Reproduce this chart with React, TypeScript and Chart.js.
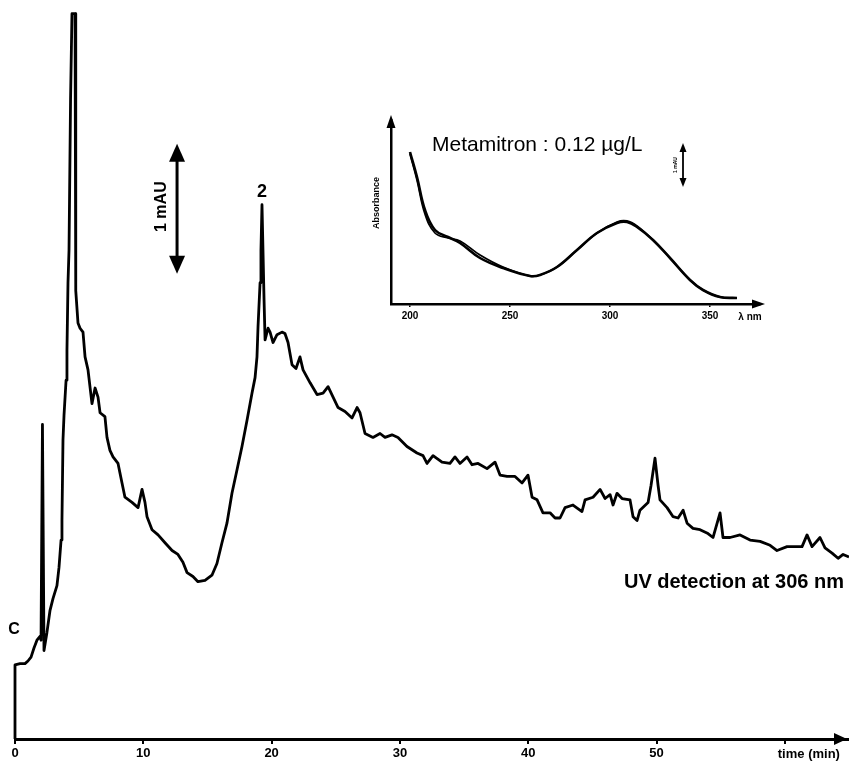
import React, { useEffect, useRef } from 'react';
import { Chart, registerables } from 'chart.js';

Chart.register(...registerables);

const FONT = "'Liberation Sans', Arial, Helvetica, sans-serif";

// ---------- Chromatogram (main chart) ----------
const TIME_MIN = [
  0, 0, 0.39, 0.78, 1.01, 1.25, 1.48, 1.71, 1.95, 2.03, 2.14, 2.26, 2.49, 2.73, 2.96, 3.27, 3.43, 3.59, 3.66, 3.74,
  3.82, 3.98, 4.05, 4.13, 4.21, 4.33, 4.44, 4.68, 4.72, 4.75, 4.91, 5.07, 5.3, 5.46, 5.69, 6.0, 6.24, 6.47, 6.63, 7.01,
  7.17, 7.4, 7.64, 8.03, 8.34, 8.57, 9.12, 9.59, 9.9, 10.13, 10.29, 10.68, 11.15, 11.69, 12.24, 12.7, 13.09, 13.41, 13.87, 14.26,
  14.81, 15.35, 15.74, 16.13, 16.52, 16.91, 17.3, 17.69, 18.08, 18.47, 18.71, 18.86, 18.94, 19.1, 19.17, 19.25, 19.41, 19.49, 19.72, 19.88,
  20.11, 20.42, 20.81, 21.04, 21.28, 21.59, 21.9, 22.21, 22.45, 23.0, 23.54, 24.01, 24.4, 24.79, 25.18, 25.72, 26.27, 26.66, 26.89, 27.28,
  27.9, 28.45, 28.84, 29.38, 29.85, 30.55, 31.33, 31.8, 32.11, 32.58, 33.28, 33.9, 34.29, 34.68, 35.23, 35.62, 36.09, 36.79, 37.41, 37.8,
  38.35, 38.97, 39.52, 39.98, 40.3, 40.69, 41.15, 41.7, 42.09, 42.48, 42.87, 43.49, 44.19, 44.43, 45.05, 45.6, 45.99, 46.38, 46.61, 46.92,
  47.31, 47.93, 48.17, 48.48, 48.71, 49.34, 49.57, 49.88, 50.12, 50.27, 50.82, 51.29, 51.68, 52.07, 52.38, 52.84, 53.39, 54.01, 54.4, 54.95,
  55.18, 55.73, 56.51, 57.29, 58.07, 58.85, 59.39, 60.17, 60.95, 61.34, 61.73, 62.12, 62.74, 63.13, 63.68, 64.15, 64.54, 65.0,
];
const SIGNAL_MAU = [
  0, 0.57, 0.58, 0.58, 0.6, 0.63, 0.7, 0.76, 0.79, 0.76, 2.42, 0.68, 0.82, 0.99, 1.08, 1.18, 1.32, 1.53, 1.68, 2.3,
  2.49, 2.76, 2.99, 3.51, 3.76, 4.92, 5.58, 5.58, 4.53, 3.45, 3.2, 3.16, 3.13, 2.94, 2.84, 2.58, 2.7, 2.63, 2.51, 2.48,
  2.32, 2.22, 2.17, 2.12, 1.97, 1.86, 1.82, 1.78, 1.92, 1.82, 1.71, 1.61, 1.57, 1.51, 1.45, 1.42, 1.36, 1.28, 1.25, 1.21,
  1.22, 1.26, 1.35, 1.51, 1.66, 1.89, 2.07, 2.25, 2.45, 2.66, 2.78, 2.94, 3.17, 3.51, 3.76, 4.11, 3.38, 3.07, 3.16, 3.13,
  3.05, 3.11, 3.13, 3.12, 3.05, 2.88, 2.85, 2.94, 2.84, 2.74, 2.65, 2.66, 2.71, 2.63, 2.55, 2.52, 2.47, 2.55, 2.51, 2.35,
  2.32, 2.35, 2.32, 2.34, 2.32, 2.25, 2.2, 2.18, 2.12, 2.18, 2.13, 2.12, 2.17, 2.12, 2.17, 2.11, 2.12, 2.08, 2.13, 2.03,
  2.02, 2.02, 1.97, 2.03, 1.86, 1.84, 1.74, 1.74, 1.7, 1.7, 1.78, 1.8, 1.75, 1.84, 1.86, 1.92, 1.85, 1.88, 1.8, 1.89,
  1.85, 1.84, 1.71, 1.68, 1.76, 1.82, 1.95, 2.16, 1.95, 1.84, 1.78, 1.71, 1.7, 1.76, 1.66, 1.62, 1.61, 1.58, 1.55, 1.74,
  1.55, 1.55, 1.57, 1.53, 1.52, 1.49, 1.45, 1.48, 1.48, 1.48, 1.57, 1.48, 1.55, 1.47, 1.43, 1.39, 1.42, 1.4,
];
const X_TICKS = [0, 10, 20, 30, 40, 50, 60];
const X_TICK_LABELS = ['0', '10', '20', '30', '40', '50', ''];
const X_TITLE = 'time (min)';
const PEAK_2_TIME = 19.25;
const PEAK_2_MAU = 4.11;
const SCALE_BAR_TIME = 12.63;
const SCALE_BAR_TOP_MAU = 4.58;

// ---------- UV spectrum (inset) ----------
const WAVELENGTH_NM = [200, 203.5, 207.5, 212.5, 219, 225, 235, 246.5, 260, 265, 273.5, 283.5, 293.5, 303.5, 308.5, 313.5, 321.5, 330, 340, 346.5, 355, 363.5];
const ABS_SAMPLE = [1.52, 1.27, 0.94, 0.74, 0.67, 0.61, 0.46, 0.36, 0.28, 0.29, 0.37, 0.54, 0.71, 0.81, 0.82, 0.77, 0.64, 0.46, 0.24, 0.14, 0.07, 0.06];
const ABS_STANDARD = [1.5, 1.24, 0.9, 0.71, 0.66, 0.63, 0.49, 0.37, 0.28, 0.29, 0.37, 0.54, 0.71, 0.82, 0.83, 0.78, 0.64, 0.46, 0.24, 0.14, 0.07, 0.06];
const INSET_X_TICKS = [200, 250, 300, 350];
const INSET_X_TICK_LABELS = ['200', '250', '300', '350'];
const INSET_TITLE = 'Metamitron : 0.12 µg/L';
const INSET_X_TITLE = 'λ nm';
const INSET_Y_TITLE = 'Absorbance';

function doubleArrow(ctx: CanvasRenderingContext2D, x: number, top: number, bottom: number, headW: number, headL: number, lw: number) {
  ctx.lineWidth = lw;
  ctx.beginPath();
  ctx.moveTo(x, top + headL - 2);
  ctx.lineTo(x, bottom - headL + 2);
  ctx.stroke();
  ctx.beginPath();
  ctx.moveTo(x, top);
  ctx.lineTo(x - headW / 2, top + headL);
  ctx.lineTo(x + headW / 2, top + headL);
  ctx.closePath();
  ctx.fill();
  ctx.beginPath();
  ctx.moveTo(x, bottom);
  ctx.lineTo(x - headW / 2, bottom - headL);
  ctx.lineTo(x + headW / 2, bottom - headL);
  ctx.closePath();
  ctx.fill();
}

const mainDecor = {
  id: 'mainDecor',
  afterDraw(chart: any) {
    const { ctx, chartArea } = chart;
    const x = chart.scales.x;
    const y = chart.scales.y;
    ctx.save();
    ctx.fillStyle = '#000';
    ctx.strokeStyle = '#000';
    // x-axis arrowhead
    const ay = chartArea.bottom;
    const tip = chartArea.right - 2;
    ctx.beginPath();
    ctx.moveTo(tip, ay);
    ctx.lineTo(tip - 13, ay - 6);
    ctx.lineTo(tip - 13, ay + 6);
    ctx.closePath();
    ctx.fill();
    // axis title
    ctx.font = `bold 13px ${FONT}`;
    ctx.textAlign = 'center';
    ctx.textBaseline = 'middle';
    ctx.fillText(X_TITLE, x.getPixelForValue(60) + 24, ay + 15);
    // 1 mAU scale bar
    const sx = x.getPixelForValue(SCALE_BAR_TIME);
    const st = y.getPixelForValue(SCALE_BAR_TOP_MAU);
    const sb = y.getPixelForValue(SCALE_BAR_TOP_MAU - 1);
    doubleArrow(ctx, sx, st, sb, 16, 18, 3);
    ctx.save();
    ctx.translate(sx - 15, (st + sb) / 2 - 2);
    ctx.rotate(-Math.PI / 2);
    ctx.font = `bold 16px ${FONT}`;
    ctx.fillText('1 mAU', 0, 0);
    ctx.restore();
    // peak label 2
    ctx.font = `bold 18px ${FONT}`;
    ctx.fillText('2', x.getPixelForValue(PEAK_2_TIME), y.getPixelForValue(PEAK_2_MAU) - 13);
    // C label
    ctx.font = `bold 16px ${FONT}`;
    ctx.fillText('C', x.getPixelForValue(0) - 1, y.getPixelForValue(0.84));
    // detection label
    ctx.font = `bold 20px ${FONT}`;
    ctx.textAlign = 'right';
    ctx.fillText('UV detection at 306 nm', chart.width - 5, 582);
    ctx.restore();
  },
};

const insetDecor = {
  id: 'insetDecor',
  afterDraw(chart: any) {
    const { ctx, chartArea } = chart;
    ctx.save();
    ctx.fillStyle = '#000';
    ctx.strokeStyle = '#000';
    // y-axis arrowhead
    const lx = chartArea.left;
    ctx.beginPath();
    ctx.moveTo(lx, chartArea.top - 5);
    ctx.lineTo(lx - 4.5, chartArea.top + 8);
    ctx.lineTo(lx + 4.5, chartArea.top + 8);
    ctx.closePath();
    ctx.fill();
    // x-axis arrowhead
    const by = chartArea.bottom;
    ctx.beginPath();
    ctx.moveTo(chartArea.right + 5, by);
    ctx.lineTo(chartArea.right - 8, by - 4.5);
    ctx.lineTo(chartArea.right - 8, by + 4.5);
    ctx.closePath();
    ctx.fill();
    // titles
    ctx.textBaseline = 'middle';
    ctx.textAlign = 'left';
    ctx.font = `21px ${FONT}`;
    ctx.fillText(INSET_TITLE, 72, 35);
    ctx.textAlign = 'center';
    ctx.font = `bold 10px ${FONT}`;
    ctx.fillText(INSET_X_TITLE, 390, by + 13);
    ctx.save();
    ctx.translate(17, 93);
    ctx.rotate(-Math.PI / 2);
    ctx.font = `bold 9px ${FONT}`;
    ctx.fillText(INSET_Y_TITLE, 0, 0);
    ctx.restore();
    // small scale arrow
    doubleArrow(ctx, 323, 33, 77, 7, 9, 1.8);
    ctx.save();
    ctx.translate(316, 55);
    ctx.rotate(-Math.PI / 2);
    ctx.font = `bold 5px ${FONT}`;
    ctx.fillText('1 mAU', 0, 0);
    ctx.restore();
    ctx.restore();
  },
};

export default function App() {
  const mainRef = useRef<HTMLCanvasElement>(null);
  const insetRef = useRef<HTMLCanvasElement>(null);

  useEffect(() => {
    const main = new Chart(mainRef.current as HTMLCanvasElement, {
      type: 'line',
      data: {
        datasets: [
          {
            data: TIME_MIN.map((t, i) => ({ x: t, y: SIGNAL_MAU[i] })),
            borderColor: '#000',
            borderWidth: 2.8,
            pointRadius: 0,
            tension: 0,
            fill: false,
            borderJoinStyle: 'round',
            clip: 6,
          },
        ],
      },
      options: {
        responsive: false,
        animation: false,
        layout: { padding: { left: 15, right: 0, top: 0, bottom: 0 } },
        plugins: { legend: { display: false }, tooltip: { enabled: false } },
        scales: {
          x: {
            type: 'linear',
            min: 0,
            max: 65,
            afterBuildTicks: (s: any) => {
              s.ticks = X_TICKS.map((v) => ({ value: v }));
            },
            afterFit: (s: any) => {
              s.height = 24;
            },
            ticks: {
              callback: (_v: any, i: number) => X_TICK_LABELS[i],
              font: { family: FONT, size: 13, weight: 'bold' },
              color: '#000',
              padding: 2,
              maxRotation: 0,
              autoSkip: false,
            },
            grid: { display: true, drawOnChartArea: false, drawTicks: true, tickLength: 5, color: '#000', lineWidth: 2 },
            border: { display: true, color: '#000', width: 3 },
          },
          y: { display: false, min: 0, max: 5.685 },
        },
      } as any,
      plugins: [mainDecor],
    });

    const inset = new Chart(insetRef.current as HTMLCanvasElement, {
      type: 'line',
      data: {
        datasets: [
          {
            data: WAVELENGTH_NM.map((w, i) => ({ x: w, y: ABS_SAMPLE[i] })),
            borderColor: '#000',
            borderWidth: 2.6,
            pointRadius: 0,
            tension: 0.4,
            fill: false,
          },
          {
            data: WAVELENGTH_NM.map((w, i) => ({ x: w, y: ABS_STANDARD[i] })),
            borderColor: '#000',
            borderWidth: 1.8,
            pointRadius: 0,
            tension: 0.4,
            fill: false,
          },
        ],
      },
      options: {
        responsive: false,
        animation: false,
        layout: { padding: { left: 0, right: 20, top: 10, bottom: 0 } },
        plugins: { legend: { display: false }, tooltip: { enabled: false } },
        scales: {
          x: {
            type: 'linear',
            min: 190.5,
            max: 375,
            afterBuildTicks: (s: any) => {
              s.ticks = INSET_X_TICKS.map((v) => ({ value: v }));
            },
            afterFit: (s: any) => {
              s.height = 26;
            },
            ticks: {
              callback: (_v: any, i: number) => INSET_X_TICK_LABELS[i],
              font: { family: FONT, size: 10, weight: 'bold' },
              color: '#000',
              padding: 3,
              maxRotation: 0,
              autoSkip: false,
            },
            grid: { display: true, drawOnChartArea: false, drawTicks: true, tickLength: 3, color: '#000', lineWidth: 1.5 },
            border: { display: true, color: '#000', width: 2.5 },
          },
          y: {
            min: 0,
            max: 1.84,
            afterFit: (s: any) => {
              s.width = 31;
            },
            ticks: { display: false },
            grid: { display: false, drawTicks: false },
            border: { display: true, color: '#000', width: 2.5 },
          },
        },
      } as any,
      plugins: [insetDecor],
    });

    return () => {
      main.destroy();
      inset.destroy();
    };
  }, []);

  return (
    <div style={{ position: 'absolute', left: 0, top: 0, width: 849, height: 763, background: '#fff' }}>
      <canvas ref={mainRef} width={849} height={763} style={{ position: 'absolute', left: 0, top: 0 }} />
      <canvas ref={insetRef} width={420} height={220} style={{ position: 'absolute', left: 360, top: 110 }} />
    </div>
  );
}
